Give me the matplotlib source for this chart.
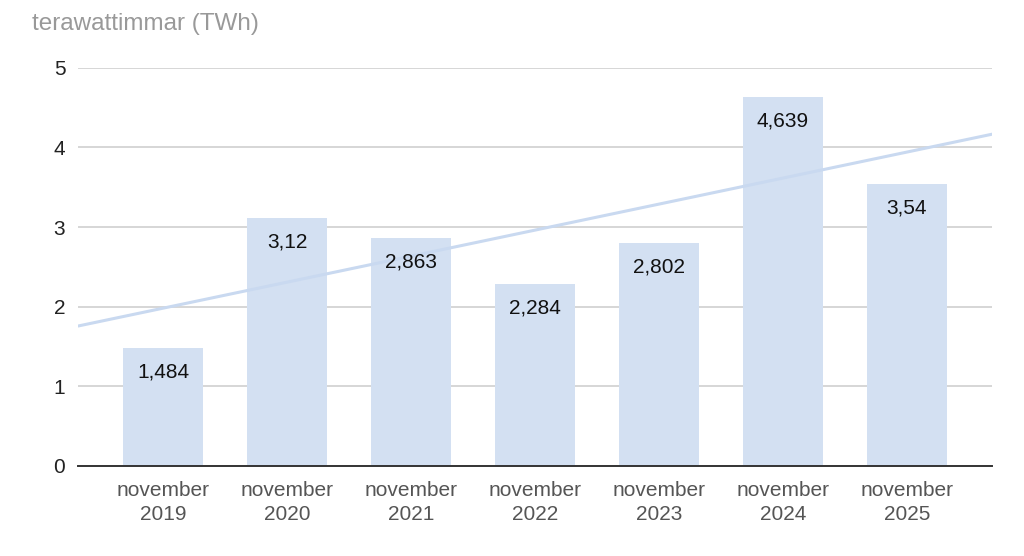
import numpy as np
import matplotlib
matplotlib.use("Agg")
import matplotlib.pyplot as plt

plt.rcParams['font.family'] = ['Liberation Sans', 'DejaVu Sans']

months = ["november\n2019", "november\n2020", "november\n2021", "november\n2022",
          "november\n2023", "november\n2024", "november\n2025"]
values = [1.484, 3.12, 2.863, 2.284, 2.802, 4.639, 3.54]
value_labels = ["1,484", "3,12", "2,863", "2,284", "2,802", "4,639", "3,54"]

bar_color = "#d3e0f2"
trend_color = "#c9d9f0"

fig = plt.figure(figsize=(10.24, 5.56), dpi=100)
ax = fig.add_axes([0.076, 0.162, 0.893, 0.716])

x = np.arange(len(values))
ax.bar(x, values, width=0.645, color=bar_color, zorder=2)

# linear trend line across the full plot width
xlim = (-0.69, len(values) - 1 + 0.69)
k, m = np.polyfit(x, values, 1)
tx = np.array(xlim)
ax.plot(tx, k * tx + m, color=trend_color, lw=2.2, zorder=3, solid_capstyle='butt')

for xi, v, lab in zip(x, values, value_labels):
    ax.annotate(lab, (xi, v), xytext=(0, -17.5), textcoords='offset points',
                ha='center', va='center', fontsize=15, color='#111111', zorder=4)

ax.set_xlim(*xlim)
ax.set_ylim(0, 5)
ax.set_yticks(range(6))
ax.set_xticks(x)
ax.set_xticklabels(months, fontsize=15, color='#555555', linespacing=1.3)
ax.tick_params(axis='y', labelsize=15, labelcolor='#222222', length=0, pad=9)
ax.tick_params(axis='x', length=0, pad=11)

ax.grid(axis='y', color='#cccccc', lw=1.1, zorder=0)
for s in ['top', 'right', 'left']:
    ax.spines[s].set_visible(False)
ax.spines['bottom'].set_color('#333333')
ax.spines['bottom'].set_linewidth(1.4)
ax.spines['bottom'].set_zorder(5)

fig.text(0.031, 0.957, "terawattimmar (TWh)", fontsize=17.5, color='#999999',
         ha='left', va='center')

fig.savefig("out.png", dpi=100)
